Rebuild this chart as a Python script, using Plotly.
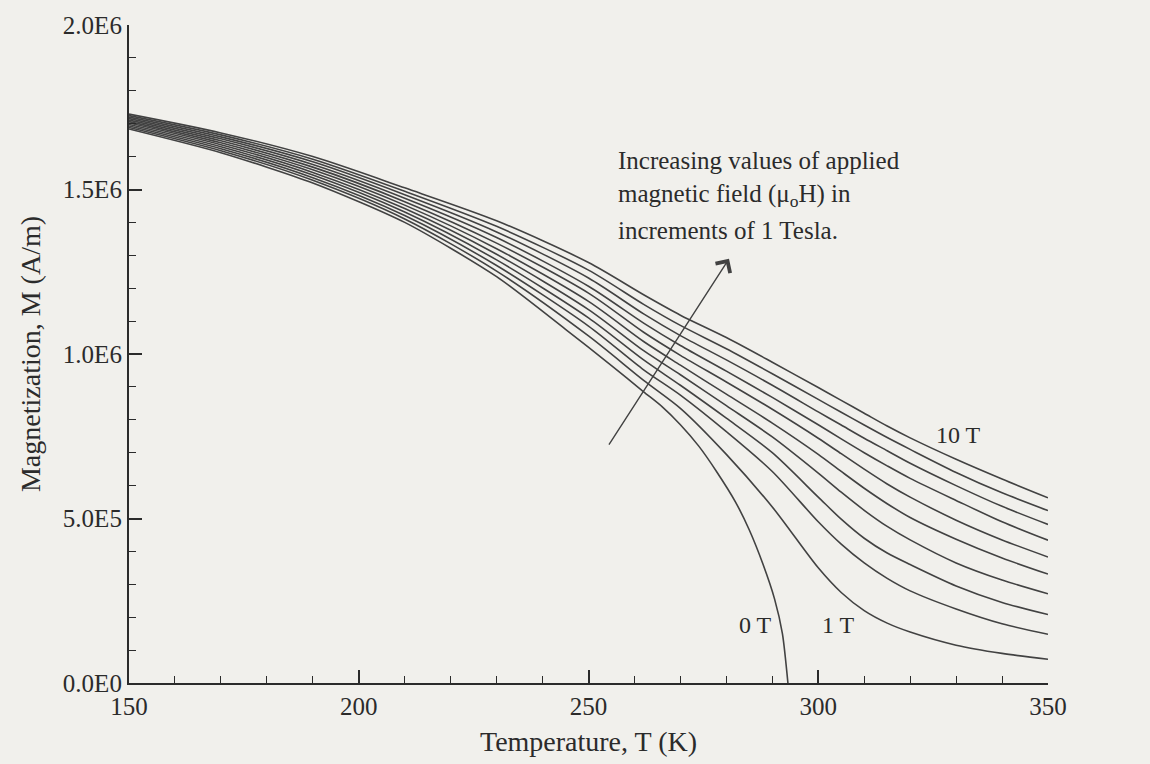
import plotly.graph_objects as go

# ---------------- data ----------------
# temperature grid (K) shared by the 1 T ... 10 T curves
temps = [150, 170, 190, 210, 230, 250, 262, 270, 280, 290, 300, 305, 310, 315, 320, 330, 340, 350]
# the 0 T curve ends where it reaches zero (Curie point)
temps_0T = [150, 170, 190, 210, 230, 245, 255, 262, 266, 270, 274, 278, 282, 285, 288, 290.5, 292.2, 293.4]

# magnetization in units of 1E6 A/m
m_0T = [1.684, 1.612, 1.52, 1.40, 1.235, 1.075, 0.965, 0.885, 0.84, 0.785, 0.72, 0.64, 0.55, 0.465, 0.36, 0.255, 0.15, 0.0]
m_1T = [1.6885, 1.618, 1.528, 1.4105, 1.252, 1.055, 0.92, 0.835, 0.695, 0.535, 0.35, 0.275, 0.22, 0.182, 0.155, 0.115, 0.09, 0.072]
m_2T = [1.693, 1.624, 1.536, 1.421, 1.269, 1.085, 0.952, 0.875, 0.764, 0.643, 0.49, 0.422, 0.365, 0.318, 0.28, 0.225, 0.18, 0.148]
m_3T = [1.6975, 1.630, 1.544, 1.4315, 1.286, 1.11, 0.982, 0.905, 0.805, 0.70, 0.565, 0.498, 0.44, 0.395, 0.36, 0.295, 0.245, 0.208]
m_4T = [1.702, 1.636, 1.552, 1.442, 1.303, 1.135, 1.01, 0.937, 0.843, 0.748, 0.638, 0.58, 0.525, 0.476, 0.435, 0.365, 0.313, 0.271]
m_5T = [1.7065, 1.642, 1.560, 1.4525, 1.32, 1.16, 1.038, 0.966, 0.878, 0.79, 0.695, 0.643, 0.592, 0.545, 0.503, 0.437, 0.38, 0.331]
m_6T = [1.711, 1.648, 1.568, 1.463, 1.337, 1.185, 1.066, 0.996, 0.915, 0.832, 0.744, 0.697, 0.65, 0.605, 0.565, 0.495, 0.435, 0.383]
m_7T = [1.7155, 1.654, 1.576, 1.4735, 1.354, 1.206, 1.094, 1.026, 0.948, 0.868, 0.785, 0.742, 0.70, 0.66, 0.622, 0.555, 0.49, 0.434]
m_8T = [1.720, 1.660, 1.584, 1.484, 1.371, 1.231, 1.122, 1.056, 0.982, 0.905, 0.824, 0.784, 0.744, 0.706, 0.668, 0.60, 0.537, 0.482]
m_9T = [1.7245, 1.666, 1.592, 1.4945, 1.388, 1.255, 1.151, 1.087, 1.016, 0.94, 0.862, 0.823, 0.784, 0.746, 0.71, 0.64, 0.578, 0.524]
m_10T = [1.729, 1.672, 1.600, 1.505, 1.405, 1.278, 1.18, 1.118, 1.05, 0.975, 0.898, 0.859, 0.82, 0.781, 0.745, 0.68, 0.62, 0.563]

field_curves = [m_1T, m_2T, m_3T, m_4T, m_5T, m_6T, m_7T, m_8T, m_9T, m_10T]
field_names = ["1 T", "2 T", "3 T", "4 T", "5 T", "6 T", "7 T", "8 T", "9 T", "10 T"]

x_tick_vals = [150, 200, 250, 300, 350]
y_tick_vals = [0, 5e5, 1e6, 1.5e6, 2e6]
y_tick_text = ["0.0E0", "5.0E5", "1.0E6", "1.5E6", "2.0E6"]

SCALE = 1e6
LINE = "#424242"
INK = "#2b2b2b"
BG = "#f1f0ec"
FONT = "Liberation Serif, Times New Roman, serif"

fig = go.Figure()
fig.add_trace(go.Scatter(x=temps_0T, y=[v * SCALE for v in m_0T], mode="lines",
                         line=dict(color=LINE, width=1.6, shape="spline", smoothing=0.7),
                         name="0 T", showlegend=False, hoverinfo="skip"))
for name, vals in zip(field_names, field_curves):
    fig.add_trace(go.Scatter(x=temps, y=[v * SCALE for v in vals], mode="lines",
                             line=dict(color=LINE, width=1.6, shape="spline", smoothing=0.8),
                             name=name, showlegend=False, hoverinfo="skip"))

# plot area in pixels: x 129..1048, y 23..687
L, R, T, B = 129, 1048, 23, 687
W, H = 1150, 764

def px_to_data(px, py):
    return 150 + (px - L) / (R - L) * 200, (B - py) / (B - T) * 2e6

# text annotations
txt_lines = ["Increasing values of applied",
             "magnetic field (\u03bc<sub>o</sub>H) in",
             "increments of 1 Tesla."]
for i, t in enumerate(txt_lines):
    xd, yd = px_to_data(616, 160 + i * 35)
    fig.add_annotation(x=xd, y=yd, text=t, showarrow=False, xanchor="left", yanchor="middle",
                       font=dict(family=FONT, size=25, color=INK))

# arrow
hx, hy = px_to_data(729, 259)
tx, ty = px_to_data(608, 448)
fig.add_annotation(x=hx, y=hy, ax=tx, ay=ty, xref="x", yref="y", axref="x", ayref="y",
                   text="", showarrow=True, arrowhead=4, arrowsize=2.4, arrowwidth=1.4,
                   arrowcolor=LINE)

for label, (px, py) in [("10 T", (958, 437)), ("0 T", (755, 628)), ("1 T", (838, 628))]:
    xd, yd = px_to_data(px, py)
    fig.add_annotation(x=xd, y=yd, text=label, showarrow=False, xanchor="center", yanchor="middle",
                       font=dict(family=FONT, size=24, color=INK))

fig.update_layout(
    width=W, height=H,
    margin=dict(l=L, r=W - R, t=T, b=H - B),
    paper_bgcolor=BG, plot_bgcolor=BG,
    font=dict(family=FONT, color=INK, size=25),
    showlegend=False,
)
fig.update_xaxes(range=[150, 350], tickvals=x_tick_vals, ticks="inside", ticklen=13, tickwidth=1.5,
                 tickcolor=INK, showline=True, linecolor=INK, linewidth=2.2, showgrid=False,
                 zeroline=False, tickfont=dict(family=FONT, size=25, color=INK),
                 minor=dict(dtick=10, ticks="inside", ticklen=7, tickwidth=1.3, tickcolor=INK, showgrid=False),
                 title=dict(text="Temperature, T (K)", font=dict(family=FONT, size=28, color=INK), standoff=12))
fig.update_yaxes(range=[0, 2e6], tickvals=y_tick_vals, ticktext=y_tick_text, ticks="inside", ticklen=13,
                 tickwidth=1.5, tickcolor=INK, showline=True, linecolor=INK, linewidth=2.2, showgrid=False,
                 zeroline=False, tickfont=dict(family=FONT, size=25, color=INK),
                 minor=dict(dtick=1e5, ticks="inside", ticklen=7, tickwidth=1.3, tickcolor=INK, showgrid=False),
                 title=dict(text="Magnetization, M (A/m)", font=dict(family=FONT, size=28, color=INK), standoff=14))

fig.write_html("out.html")
